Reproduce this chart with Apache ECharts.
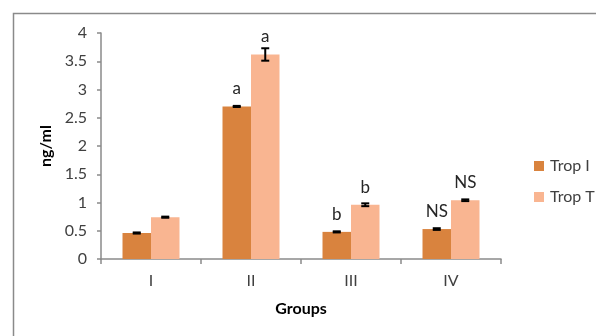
<!DOCTYPE html>
<html>
<head>
<meta charset="utf-8">
<script src="https://cdn.jsdelivr.net/npm/echarts@6/dist/echarts.min.js"></script>
<style>html,body{margin:0;padding:0;background:#fff}#c{width:596px;height:336px}</style>
</head>
<body>
<div id="c"></div>
<script>
var categories = ['I', 'II', 'III', 'IV'];
var tropI = [0.46, 2.70, 0.48, 0.53];
var tropT = [0.74, 3.62, 0.96, 1.04];
var tropIErr = [0.01, 0.01, 0.01, 0.015];
var tropTErr = [0.01, 0.11, 0.025, 0.015];
var tropILabels = ['', 'a', 'b', 'NS'];
var tropTLabels = ['', 'a', 'b', 'NS'];
var yTicks = ['0', '0.5', '1', '1.5', '2', '2.5', '3', '3.5', '4'];

var FONT = 'Lato';
var GAP = 0.43;
var chart = echarts.init(document.getElementById('c'), null, {renderer: 'canvas'});

function errSeries(vals, errs, side) {
  return {
    type: 'custom',
    z: 10,
    silent: true,
    data: vals.map(function (v, i) { return [i, v - errs[i], v + errs[i]]; }),
    renderItem: function (params, api) {
      var band = api.size([1, 0])[0];
      var barW = band * (1 - GAP) / 2;
      var lo = api.coord([api.value(0), api.value(1)]);
      var hi = api.coord([api.value(0), api.value(2)]);
      var x = lo[0] + side * barW / 2;
      var cap = 4;
      var st = {stroke: '#000', lineWidth: 2};
      return {
        type: 'group',
        children: [
          {type: 'line', shape: {x1: x, y1: lo[1], x2: x, y2: hi[1]}, style: st},
          {type: 'line', shape: {x1: x - cap, y1: lo[1], x2: x + cap, y2: lo[1]}, style: st},
          {type: 'line', shape: {x1: x - cap, y1: hi[1], x2: x + cap, y2: hi[1]}, style: st}
        ]
      };
    }
  };
}

function barSeries(name, vals, labels, color) {
  return {
    name: name,
    type: 'bar',
    barGap: '0%',
    barCategoryGap: (GAP * 100) + '%',
    data: vals,
    itemStyle: {color: color},
    label: {
      show: true,
      position: 'top',
      distance: 9,
      fontFamily: FONT,
      fontSize: 17,
      color: '#262626',
      formatter: function (p) { return labels[p.dataIndex]; }
    }
  };
}

chart.setOption({
  animation: false,
  textStyle: {fontFamily: FONT},
  graphic: [{
    type: 'rect',
    shape: {x: 13.5, y: 13.5, width: 800, height: 500},
    style: {fill: 'none', stroke: '#8a8a8a', lineWidth: 1.5},
    z: -1
  }],
  grid: {left: 101, right: 95, top: 33, bottom: 77},
  legend: {
    orient: 'vertical',
    left: 529,
    top: 153,
    itemWidth: 10,
    itemHeight: 10,
    itemGap: 15,
    icon: 'rect',
    textStyle: {fontFamily: FONT, fontSize: 16, color: '#404040', padding: [0, 0, 0, 1]},
    data: ['Trop I', 'Trop T']
  },
  xAxis: {
    type: 'category',
    data: categories,
    name: 'Groups',
    nameLocation: 'middle',
    nameGap: 42,
    nameTextStyle: {fontFamily: FONT, fontSize: 16, fontWeight: 'bold', color: '#000'},
    axisLine: {lineStyle: {color: '#8a8a8a', width: 1.5}},
    axisTick: {show: true, length: 5, lineStyle: {color: '#8a8a8a', width: 1.5}},
    axisLabel: {fontFamily: FONT, fontSize: 16, color: '#404040', margin: 14}
  },
  yAxis: {
    type: 'value',
    min: 0,
    max: 4,
    interval: 0.5,
    name: 'ng/ml',
    nameLocation: 'middle',
    nameGap: 47,
    nameRotate: 90,
    nameTextStyle: {fontFamily: FONT, fontSize: 16, fontWeight: 'bold', color: '#000'},
    axisLine: {show: true, lineStyle: {color: '#8a8a8a', width: 1.5}},
    axisTick: {show: true, length: 4, lineStyle: {color: '#8a8a8a', width: 1.5}},
    splitLine: {show: false},
    axisLabel: {
      fontFamily: FONT, fontSize: 16, color: '#404040', margin: 14,
      formatter: function (v) { return yTicks[Math.round(v * 2)]; }
    }
  },
  series: [
    barSeries('Trop I', tropI, tropILabels, '#D9833E'),
    barSeries('Trop T', tropT, tropTLabels, '#F9B591'),
    errSeries(tropI, tropIErr, -1),
    errSeries(tropT, tropTErr, 1)
  ]
});
</script>
</body>
</html>
